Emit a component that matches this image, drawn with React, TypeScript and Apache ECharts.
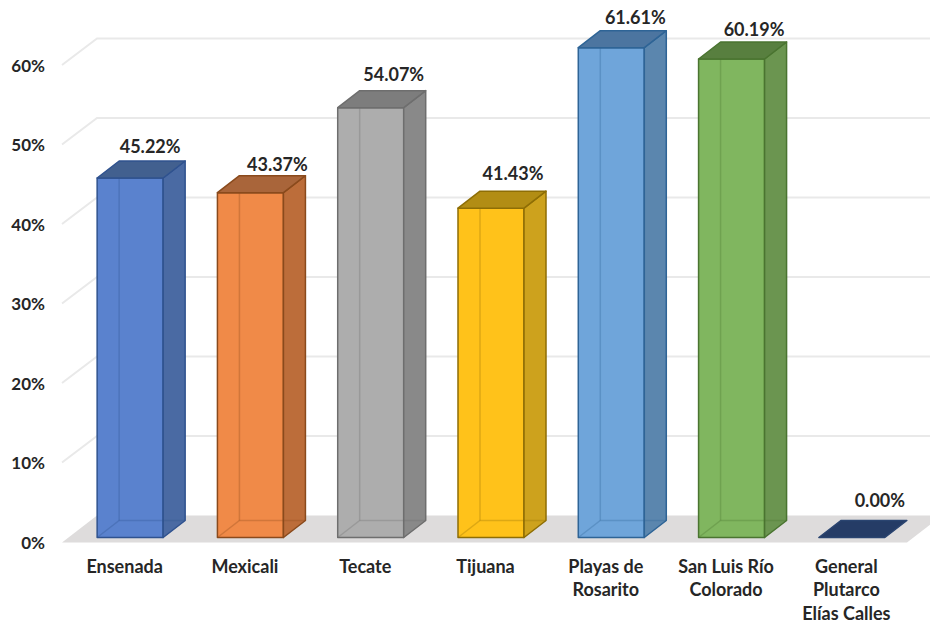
import React, { useEffect, useRef } from "react";
import * as echarts from "echarts";

const categories = [
  "Ensenada",
  "Mexicali",
  "Tecate",
  "Tijuana",
  "Playas de\nRosarito",
  "San Luis Río\nColorado",
  "General\nPlutarco\nElías Calles",
];
const values = [45.22, 43.37, 54.07, 41.43, 61.61, 60.19, 0];
const yTicks = [0, 10, 20, 30, 40, 50, 60];

const frontColors = ["#5A82CE", "#F08A48", "#ADADAD", "#FFC21A", "#6FA5DA", "#80B65F", "#253C66"];
const sideColors = ["#4A6AA3", "#BC6D3A", "#898989", "#CDA21D", "#5B86AE", "#6B9550", "#253C66"];
const topColors = ["#42608F", "#A9653A", "#7D7D7D", "#B28D14", "#4C75A0", "#587F3F", "#253C66"];
const edgeColors = ["#2F528F", "#8A4A1C", "#6E6E6E", "#8E6E05", "#2E6496", "#4A7430", "#2A4470"];

// hand-placed data label nudges of the reference, relative to the bar's top
const labelDx = [20, 27, 23, 22, 24, 22.5, 28];
const labelDy = [-32, -29, -34, -35, -31, -30, -38];

const FONT = "Lato";
const TEXT = "#262626";
const FONT_SIZE = 18;
const GRID_LEFT = 70;
const GRID_WIDTH = 842;
const BASE_Y = 542;
const PX_PER_UNIT = 7.95;
const AXIS_MAX = 65;
const BAR_WIDTH = 66;
const BAR_DX = 22;
const BAR_DY = 17;
const BAR_LIFT = 4.5;
const WALL_DX = 35;
const WALL_DY = 26.5;
const WALL_FRONT_X = 62;
const RIGHT_FRONT_X = 907;
const RIGHT_EDGE = 930;

function renderGrid(_params: any, api: any) {
  const v = api.value(1);
  const y = api.coord([0, v])[1];
  const bx = WALL_FRONT_X + WALL_DX;
  if (v === 0) {
    return {
      type: "polygon",
      silent: true,
      shape: {
        points: [
          [WALL_FRONT_X, y + 0.5],
          [bx, y - WALL_DY],
          [RIGHT_FRONT_X + WALL_DX, y - WALL_DY],
          [RIGHT_FRONT_X, y + 0.5],
        ],
      },
      style: { fill: "#DEDCDC", stroke: "none" },
    };
  }
  return {
    type: "polyline",
    silent: true,
    shape: {
      points: [
        [WALL_FRONT_X, y],
        [bx, y - WALL_DY],
        [RIGHT_EDGE, y - WALL_DY],
      ],
    },
    style: { fill: "none", stroke: "#E9E9E9", lineWidth: 2 },
  };
}

function renderBar(params: any, api: any) {
  const i = params.dataIndex;
  const v = api.value(1);
  const pt = api.coord([api.value(0), v]);
  const yb = api.coord([api.value(0), 0])[1] - BAR_LIFT;
  const yt = pt[1] - BAR_LIFT;
  const x0 = pt[0] - BAR_WIDTH / 2;
  const x1 = pt[0] + BAR_WIDTH / 2;
  const edge = edgeColors[i];
  const children: any[] = [];
  const faceStroke = { stroke: edge, lineWidth: 1.5, lineJoin: "round" };

  if (v > 0) {
    children.push({
      type: "polygon",
      shape: { points: [[x0, yb], [x0, yt], [x1, yt], [x1, yb]] },
      style: { fill: frontColors[i], ...faceStroke },
    });
    children.push({
      type: "polygon",
      shape: {
        points: [
          [x1, yb],
          [x1, yt],
          [x1 + BAR_DX, yt - BAR_DY],
          [x1 + BAR_DX, yb - BAR_DY],
        ],
      },
      style: { fill: sideColors[i], ...faceStroke },
    });
    // hidden edges seen through the translucent faces
    children.push({
      type: "polyline",
      shape: {
        points: [
          [x0, yb],
          [x0 + BAR_DX, yb - BAR_DY],
          [x1 + BAR_DX, yb - BAR_DY],
        ],
      },
      style: { fill: "none", stroke: edge, lineWidth: 1.5, opacity: 0.3 },
    });
    children.push({
      type: "line",
      shape: { x1: x0 + BAR_DX, y1: yb - BAR_DY, x2: x0 + BAR_DX, y2: yt },
      style: { stroke: edge, lineWidth: 1.5, opacity: 0.3 },
    });
  }
  children.push({
    type: "polygon",
    shape: {
      points: [
        [x0, yt],
        [x0 + BAR_DX, yt - BAR_DY],
        [x1 + BAR_DX, yt - BAR_DY],
        [x1, yt],
      ],
    },
    style: { fill: topColors[i], ...faceStroke },
  });
  children.push({
    type: "text",
    style: {
      text: v.toFixed(2) + "%",
      x: pt[0] + labelDx[i],
      y: pt[1] - BAR_LIFT + labelDy[i],
      align: "center",
      verticalAlign: "middle",
      fill: TEXT,
      font: `700 ${FONT_SIZE}px ${FONT}`,
    },
  });
  return { type: "group", silent: true, children };
}

export default function App() {
  const ref = useRef<HTMLDivElement>(null);

  useEffect(() => {
    const chart = echarts.init(ref.current!, null, { renderer: "svg" });
    const height = AXIS_MAX * PX_PER_UNIT;
    chart.setOption({
      animation: false,
      backgroundColor: "#FFFFFF",
      tooltip: { show: false },
      legend: { show: false },
      grid: {
        left: GRID_LEFT,
        width: GRID_WIDTH,
        top: BASE_Y - height,
        height,
        containLabel: false,
        outerBoundsMode: "none",
      },
      xAxis: {
        type: "category",
        data: categories,
        axisLine: { show: false },
        axisTick: { show: false },
        axisLabel: {
          interval: 0,
          margin: 12,
          color: TEXT,
          fontFamily: FONT,
          fontWeight: 700,
          fontSize: FONT_SIZE,
          lineHeight: 23.5,
          padding: [0, 11, 0, 0],
        },
      },
      yAxis: {
        type: "value",
        min: 0,
        max: AXIS_MAX,
        interval: 10,
        splitLine: { show: false },
        axisLine: { show: false },
        axisTick: { show: false },
        axisLabel: {
          showMaxLabel: false,
          margin: 25,
          color: TEXT,
          fontFamily: FONT,
          fontWeight: 700,
          fontSize: 17,
          formatter: "{value}%",
        },
      },
      series: [
        {
          type: "custom",
          name: "grid",
          silent: true,
          clip: false,
          z: 1,
          renderItem: renderGrid,
          encode: { x: 0, y: 1 },
          data: yTicks.map((t) => [0, t]),
        },
        {
          type: "custom",
          name: "values",
          silent: true,
          clip: false,
          z: 2,
          renderItem: renderBar,
          encode: { x: 0, y: 1 },
          data: values.map((v, i) => [i, v]),
        },
      ],
    });
    return () => chart.dispose();
  }, []);

  return (
    <div
      ref={ref}
      style={{ position: "absolute", left: 0, top: 0, width: 930, height: 624 }}
    />
  );
}
